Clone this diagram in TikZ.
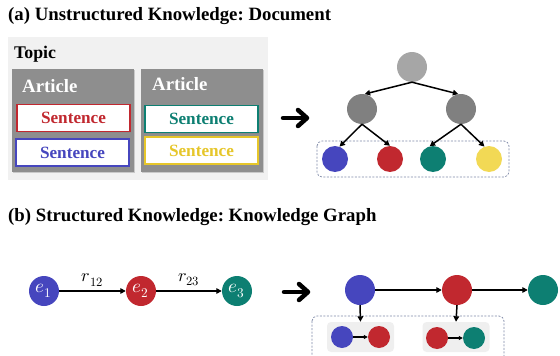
\documentclass[tikz,border=0pt]{standalone}
\usepackage{fontspec}
\usepackage{unicode-math}
\setmainfont{Liberation Serif}
\setmathfont{Latin Modern Math}
\usetikzlibrary{arrows.meta,shadows}
\frenchspacing
\definecolor{cblue}{HTML}{4646BE}
\definecolor{cred}{HTML}{C1282F}
\definecolor{cteal}{HTML}{0D7F72}
\definecolor{cyellow}{HTML}{F2D955}
\definecolor{tyellow}{HTML}{E6C62A}
\definecolor{croot}{HTML}{A6A6A6}
\definecolor{cmid}{HTML}{808080}
\definecolor{artbg}{HTML}{8E8E8E}
\definecolor{topicbg}{HTML}{F1F1F1}
\definecolor{innerbg}{HTML}{EFEFEF}
\definecolor{dashc}{HTML}{7E88A6}
\begin{document}
\begin{tikzpicture}[x=1pt,y=-1pt,
  title/.style={anchor=west,inner sep=0pt,font=\fontsize{18.8}{21}\selectfont\bfseries},
  artbox/.style={fill=artbg,draw=none,minimum width=122pt,minimum height=103pt,inner sep=0pt,
    drop shadow={shadow xshift=1pt,shadow yshift=-1pt,opacity=0.35}},
  sentbox/.style={fill=white,draw=#1,line width=1.1pt,text=#1,minimum width=113pt,minimum height=27pt,inner sep=0pt,
    font=\fontsize{17.2}{19}\selectfont\bfseries,
    drop shadow={shadow xshift=1pt,shadow yshift=-1pt,opacity=0.3}},
  artlabel/.style={anchor=west,inner sep=0pt,text=white,font=\fontsize{18.8}{21}\selectfont\bfseries},
  dot/.style={circle,fill=#1,draw=none,minimum size=30pt,inner sep=0pt},
  leaf/.style={circle,fill=#1,draw=none,minimum size=26pt,inner sep=0pt},
  small/.style={circle,fill=#1,draw=none,minimum size=22pt,inner sep=0pt},
  ent/.style={circle,fill=#1,draw=none,minimum size=30pt,inner sep=0pt,text=white,font=\fontsize{19}{21}\selectfont},
  arr/.style={-{Triangle[length=5.5pt,width=5.5pt]},line width=1.5pt,black},
  bigarr/.style={line width=4.5pt,line cap=round,line join=round,black},
  dashbox/.style={draw=dashc,dashed,dash pattern=on 2pt off 1.5pt,line width=0.7pt,rounded corners=5pt},
  inner/.style={fill=innerbg,draw=none,rounded corners=4pt,minimum width=67pt,minimum height=30pt,inner sep=0pt},
  rlabel/.style={inner sep=0pt,font=\fontsize{18}{20}\selectfont}]
\useasboundingbox (0,0) rectangle (560,356);
\clip (0,0) rectangle (560,356);

% ---------- (a) ----------
\node[title] (ta) at (8,16) {(a) Unstructured Knowledge: Document};
\node[fill=topicbg,minimum width=260pt,minimum height=143pt,inner sep=0pt] (topic) at (138,108.5) {};
\node[anchor=west,inner sep=0pt,font=\fontsize{17.8}{20}\selectfont\bfseries] (topiclab) at (14,54) {Topic};
\node[artbox] (art1) at (73,120.5) {};
\node[artbox] (art2) at (202,120.5) {};
\node[artlabel] (al1) at (22,86) {Article};
\node[artlabel] (al2) at (152,84) {Article};
\node[sentbox=cred] (s1) at (73.5,118) {Sentence};
\node[sentbox=cblue] (s2) at (72.5,152.5) {Sentence};
\node[sentbox=cteal] (s3) at (201.5,119) {Sentence};
\node[sentbox=tyellow] (s4) at (201.5,150.5) {Sentence};

% big arrow (a)
\draw[bigarr] (283,118) -- (306,118);
\draw[bigarr] (298,110) -- (307,118) -- (298,126);

% tree
\draw[dashbox] (317,141) rectangle (509,177);
\node[dot=croot] (root) at (412,67) {};
\node[dot=cmid] (m1) at (362,109) {};
\node[dot=cmid] (m2) at (461,109) {};
\node[leaf=cblue] (l1) at (335,159) {};
\node[leaf=cred] (l2) at (390,159) {};
\node[leaf=cteal] (l3) at (433,159) {};
\node[leaf=cyellow] (l4) at (489,159) {};
\draw[arr] (root.south) -- (m1.80);
\draw[arr] (root.south) -- (m2.100);
\draw[arr] (m1.south) -- (l1.70);
\draw[arr] (m1.south) -- (l2.north);
\draw[arr] (m2.south) -- (l3.105);
\draw[arr] (m2.south) -- (l4.110);

% ---------- (b) ----------
\node[title] (tb) at (8,217) {(b) Structured Knowledge: Knowledge Graph};
\node[ent=cblue] (e1) at (44,291) {$e_1$};
\node[ent=cred] (e2) at (141,291) {$e_2$};
\node[ent=cteal] (e3) at (237,291) {$e_3$};
\draw[arr] (e1.east) -- node[rlabel,above=4pt] (r12) {$r_{12}$} (e2.west);
\draw[arr] (e2.east) -- node[rlabel,above=4pt] (r23) {$r_{23}$} (e3.west);

% big arrow (b)
\draw[bigarr] (284,292) -- (307,292);
\draw[bigarr] (299,284) -- (308,292) -- (299,300);

% KG expansion
\draw[dashbox] (312,316) rectangle (504,366);
\node[dot=cblue] (k1) at (360,290) {};
\node[dot=cred] (k2) at (457,290) {};
\node[dot=cteal] (k3) at (543,290) {};
\draw[arr] (k1.east) -- (k2.west);
\draw[arr] (k2.east) -- (k3.west);
\node[inner] (g1) at (360.5,337) {};
\node[inner] (g2) at (456,337) {};
\draw[arr] (k1.south) -- (g1.north);
\draw[arr] (k2.south) -- (g2.north);
\node[small=cblue] (a1) at (342,337) {};
\node[small=cred] (a2) at (379,337) {};
\node[small=cred] (b1) at (437,338) {};
\node[small=cteal] (b2) at (474,338) {};
\draw[-{Triangle[length=4pt,width=4pt]},line width=1.2pt] (a1.east) -- (a2.west);
\draw[-{Triangle[length=4pt,width=4pt]},line width=1.2pt] (b1.east) -- (b2.west);
\end{tikzpicture}
\end{document}
